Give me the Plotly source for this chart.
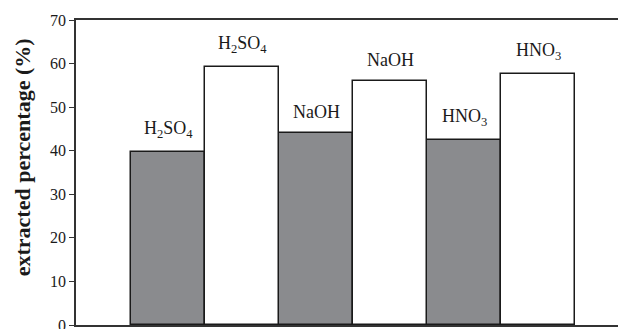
import plotly.graph_objects as go

categories = ["H2SO4", "NaOH", "HNO3"]
label_text = ["H<sub>2</sub>SO<sub>4</sub>", "NaOH", "HNO<sub>3</sub>"]
series_gray = [39.6, 44.0, 42.5]
series_white = [59.2, 56.0, 57.5]
y_ticks = [0, 10, 20, 30, 40, 50, 60, 70]

font_family = "Liberation Serif, Times New Roman, serif"

fig = go.Figure()
fig.add_trace(go.Bar(x=categories, y=series_gray, marker=dict(color="#8a8b8e", line=dict(color="#1a1a1a", width=1.5)), showlegend=False))
fig.add_trace(go.Bar(x=categories, y=series_white, marker=dict(color="#ffffff", line=dict(color="#1a1a1a", width=1.5)), showlegend=False))

annotations = []
for i, (lab, g, w) in enumerate(zip(label_text, series_gray, series_white)):
    annotations.append(dict(x=i - 0.25, y=g, xref="x", yref="y", text=lab, showarrow=False,
                            yanchor="bottom", yshift=9, font=dict(family=font_family, size=18, color="#1a1a1a")))
    annotations.append(dict(x=i + 0.25, y=w, xref="x", yref="y", text=lab, showarrow=False,
                            yanchor="bottom", yshift=9, font=dict(family=font_family, size=18, color="#1a1a1a")))

annotations.append(dict(x=-0.0996, y=0.55, xref="paper", yref="paper", text="<b>extracted percentage (%)</b>",
                        textangle=-90, showarrow=False, xanchor="center", yanchor="middle",
                        font=dict(family=font_family, size=22, color="#1a1a1a")))

fig.update_layout(
    width=618, height=329,
    margin=dict(l=76, r=0, t=20, b=4, autoexpand=False),
    paper_bgcolor="white", plot_bgcolor="white",
    barmode="group", bargap=0, bargroupgap=0,
    annotations=annotations,
    font=dict(family=font_family, color="#1a1a1a"),
)
fig.update_xaxes(type="category", range=[-0.872, 2.79], showticklabels=False, ticks="", automargin=False,
                 showline=True, linecolor="#333333", linewidth=1.5, mirror=True, showgrid=False, zeroline=False)
fig.update_yaxes(range=[0, 70], tickvals=y_ticks, ticks="outside", ticklen=5, tickcolor="#333333", tickwidth=1,
                 showline=True, linecolor="#333333", linewidth=1.5, showgrid=False, zeroline=False,
                 ticklabeloverflow="allow", automargin=False,
                 tickfont=dict(family=font_family, size=16, color="#1a1a1a"))

fig.write_html("out.html", config={"displayModeBar": False},
               post_script="document.body.style.margin='0';document.body.style.padding='0';")
